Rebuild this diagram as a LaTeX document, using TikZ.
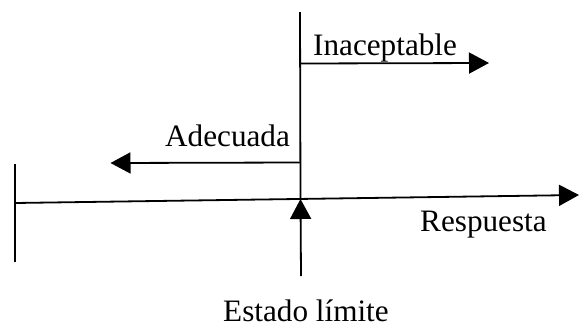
\documentclass[tikz,border=0pt]{standalone}
\usepackage{fontspec}
\setmainfont{Liberation Serif}
\usetikzlibrary{arrows.meta}
\begin{document}
\begin{tikzpicture}[x=1pt,y=-1pt,
  ln/.style={line width=1.8pt, line cap=butt},
  arr/.style={ln, -{Triangle[length=20pt,width=21pt]}},
  lbl/.style={inner sep=0pt, anchor=base west, font=\fontsize{31.2}{37}\selectfont}]
\useasboundingbox (0,0) rectangle (579,327);
% coordinates
\coordinate (vtop) at (300,12);
\coordinate (vmid) at (300.5,199);
\coordinate (vbot) at (301,276);
\coordinate (axl) at (15,203);
\coordinate (axr) at (579,195);
\coordinate (ttop) at (15,164);
\coordinate (tbot) at (15,262);
\coordinate (ina0) at (300,63.5);
\coordinate (ina1) at (489,63);
\coordinate (ade0) at (300,162.5);
\coordinate (ade1) at (110.5,163);
% lines
\draw[ln] (vtop) -- (vmid);
\draw[arr] (vbot) -- (vmid);
\draw[arr] (axl) -- (axr);
\draw[ln] (ttop) -- (tbot);
\draw[arr] (ina0) -- (ina1);
\draw[arr] (ade0) -- (ade1);
% labels
\node[lbl] (tina) at (313,55) {Inaceptable};
\node[lbl] (tade) at (165,146.7) {Adecuada};
\node[lbl] (tres) at (420,231.7) {Respuesta};
\node[lbl] (test) at (223,321) {Estado límite};
\end{tikzpicture}
\end{document}
